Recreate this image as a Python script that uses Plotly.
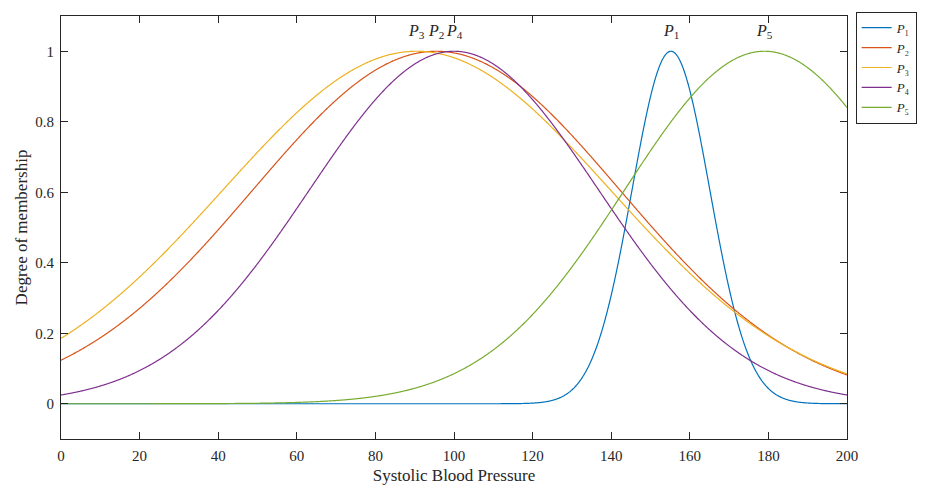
import numpy as np
import plotly.graph_objects as go

# Gaussian membership function parameters
names = ["P1", "P2", "P3", "P4", "P5"]
centers = [155.2, 95.5, 90.5, 100.0, 179.0]
sigmas = [9.9, 46.7, 49.3, 36.8, 35.6]
colors = ["#0072BD", "#D95319", "#EDB120", "#7E2F8E", "#77AC30"]
subscripts = ["\u2081", "\u2082", "\u2083", "\u2084", "\u2085"]

x_ticks = [0, 20, 40, 60, 80, 100, 120, 140, 160, 180, 200]
y_ticks = [0, 0.2, 0.4, 0.6, 0.8, 1]
y_tick_labels = ["0", "0.2", "0.4", "0.6", "0.8", "1"]

x = np.linspace(0, 200, 1601)

font_family = "Liberation Serif"
ink = "#262626"

fig = go.Figure()
for name, c, s, col, sub in zip(names, centers, sigmas, colors, subscripts):
    y = np.exp(-((x - c) ** 2) / (2 * s ** 2))
    fig.add_trace(go.Scatter(
        x=x, y=y, mode="lines",
        name="<i>P</i>" + sub,
        line=dict(color=col, width=1.2, simplify=False),
    ))

for name, c in zip(names, centers):
    fig.add_annotation(
        x=c, y=1.055, xref="x", yref="y",
        text="<i>P</i><sub>%s</sub>" % name[1:],
        showarrow=False, font=dict(family=font_family, size=16, color=ink),
        yanchor="middle", xanchor="center",
    )

axis_common = dict(
    showline=True, linecolor=ink, linewidth=1,
    mirror="ticks", ticks="inside", ticklen=7, tickcolor=ink,
    showgrid=False, zeroline=False, automargin=False,
    tickfont=dict(family=font_family, size=15, color=ink),
)

fig.update_layout(
    width=932, height=489,
    margin=dict(l=61, r=85, t=14, b=50),
    paper_bgcolor="white", plot_bgcolor="white",
    font=dict(family=font_family, size=15, color=ink),
    xaxis=dict(range=[0, 200], tickvals=x_ticks, ticklabelstandoff=3,
               title=dict(text="Systolic Blood Pressure", font=dict(size=17), standoff=6),
               **axis_common),
    yaxis=dict(range=[-0.1, 1.1], tickvals=y_ticks, ticktext=y_tick_labels,
               ticklabelstandoff=3,
               title=dict(text="Degree of membership", font=dict(size=17), standoff=3),
               **axis_common),
    legend=dict(x=1.011, y=1.01, xanchor="left", yanchor="top",
                bordercolor=ink, borderwidth=1, bgcolor="white",
                font=dict(family=font_family, size=13, color=ink),
                tracegroupgap=0, itemwidth=30),
    showlegend=True,
)

fig.write_html("out.html")
